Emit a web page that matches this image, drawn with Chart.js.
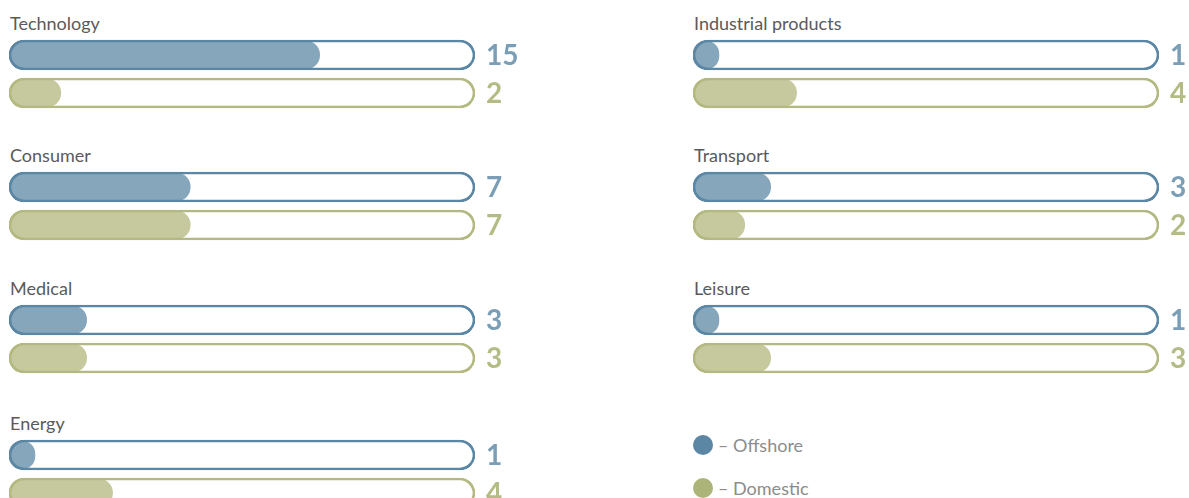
<!DOCTYPE html>
<html>
<head>
<meta charset="utf-8">
<script src="https://cdn.jsdelivr.net/npm/chart.js@4.4.0/dist/chart.umd.min.js"></script>
<style>
  html, body { margin: 0; padding: 0; background: #fff; overflow: hidden; }
  body { width: 1189px; height: 498px; position: relative; font-family: Lato, "Open Sans", sans-serif; }
  .title { position: absolute; font-size: 18px; line-height: 20px; color: #5a5a5a; white-space: nowrap; }
  .panel { position: absolute; }
  .legend { position: absolute; left: 693px; font-size: 18px; line-height: 20px; color: #8c8c8c; white-space: nowrap; }
  .legend span.dot { display: inline-block; width: 20px; height: 20px; border-radius: 50%; vertical-align: top; margin-right: 5px; }
</style>
</head>
<body>
<script>
const categories = ['Technology', 'Consumer', 'Medical', 'Energy', 'Industrial products', 'Transport', 'Leisure'];
const seriesNames = ['Offshore', 'Domestic'];
const offshore = [15, 7, 3, 1, 1, 3, 1];
const domestic = [2, 7, 3, 4, 4, 2, 3];

// scale of each track and the longest bar the design allows
const trackMax = 18;
const barCap = 12;

const borderColors = ['#5b87a4', '#b3b981'];
const fillColors = ['#86a6bb', '#c6c99e'];
const labelColors = ['#7a9eb6', '#b5bb85'];
const legendColors = ['#5b87a4', '#adb47a'];

const columnLeft = [9, 693];
const rowTop = [40, 172, 305, 440];

const valueLabels = {
  id: 'valueLabels',
  afterDatasetsDraw(chart) {
    const { ctx, chartArea } = chart;
    const meta = chart.getDatasetMeta(1);
    const raw = chart.options.plugins.valueLabels.values;
    ctx.save();
    ctx.font = 'bold 28px Lato, "Open Sans", sans-serif';
    ctx.textBaseline = 'alphabetic';
    ctx.textAlign = 'left';
    meta.data.forEach((bar, i) => {
      ctx.fillStyle = labelColors[i];
      ctx.fillText(String(raw[i]), chartArea.right + 11, bar.y + 10);
    });
    ctx.restore();
  }
};

categories.forEach((name, i) => {
  const col = i < 4 ? 0 : 1;
  const row = i < 4 ? i : i - 4;
  const left = columnLeft[col];
  const top = rowTop[row];

  const title = document.createElement('div');
  title.className = 'title';
  title.textContent = name;
  title.style.left = (left + 1) + 'px';
  title.style.top = (top - 27) + 'px';
  document.body.appendChild(title);

  const canvas = document.createElement('canvas');
  canvas.className = 'panel';
  canvas.width = 520;
  canvas.height = 76;
  canvas.style.left = left + 'px';
  canvas.style.top = (top - 4) + 'px';
  document.body.appendChild(canvas);

  const values = [offshore[i], domestic[i]];

  new Chart(canvas.getContext('2d'), {
    type: 'bar',
    data: {
      labels: seriesNames,
      datasets: [
        {
          // outline of the track, drawn on top
          data: seriesNames.map(() => trackMax),
          backgroundColor: 'rgba(0,0,0,0)',
          borderColor: borderColors,
          borderWidth: 2,
          borderRadius: 15,
          borderSkipped: false,
          barThickness: 30,
          grouped: false,
          order: 0
        },
        {
          data: values.map(v => Math.min(v, barCap)),
          backgroundColor: fillColors,
          borderWidth: 0,
          borderRadius: 14,
          borderSkipped: false,
          barThickness: 28,
          grouped: false,
          order: 1
        }
      ]
    },
    options: {
      indexAxis: 'y',
      responsive: false,
      animation: false,
      events: [],
      layout: { padding: { left: 0, right: 54, top: 0, bottom: 0 } },
      plugins: {
        legend: { display: false },
        tooltip: { enabled: false },
        valueLabels: { values: values }
      },
      scales: {
        x: { display: false, min: 0, max: trackMax },
        y: { display: false }
      }
    },
    plugins: [valueLabels]
  });
});

[445, 488].forEach((cy, k) => {
  const item = document.createElement('div');
  item.className = 'legend';
  item.style.top = (cy - 10) + 'px';
  item.innerHTML = '<span class="dot" style="background:' + legendColors[k] + '"></span>– ' + seriesNames[k];
  document.body.appendChild(item);
});
</script>
</body>
</html>
